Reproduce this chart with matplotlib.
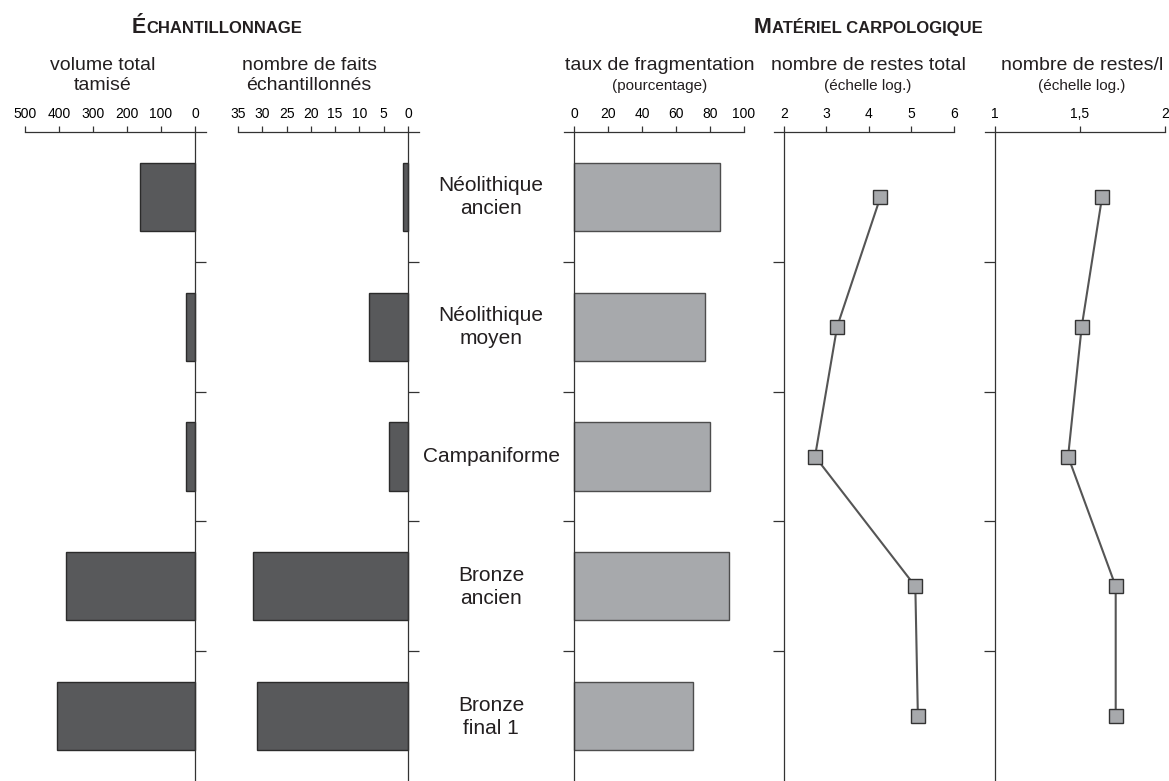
import numpy as np
import matplotlib.pyplot as plt

plt.rcParams["font.family"] = ["Liberation Sans", "DejaVu Sans"]

# données
periodes = ["Néolithique\nancien", "Néolithique\nmoyen", "Campaniforme",
            "Bronze\nancien", "Bronze\nfinal 1"]
volume_tamise = [162, 27, 26, 379, 405]
nb_faits = [1, 8, 4, 32, 31]
taux_fragmentation = [86, 77, 80, 91, 70]
restes_total = [4.27, 3.25, 2.73, 5.09, 5.15]
restes_par_litre = [1.63, 1.51, 1.43, 1.71, 1.71]

vol_ticks = [500, 400, 300, 200, 100, 0]
faits_ticks = [35, 30, 25, 20, 15, 10, 5, 0]
taux_ticks = [0, 20, 40, 60, 80, 100]
total_ticks = [2, 3, 4, 5, 6]
litre_ticks = [1, 1.5, 2]
litre_labels = ["1", "1,5", "2"]

W, H = 1169, 781
fig = plt.figure(figsize=(W / 100, H / 100), dpi=100)

TOP = 132          # ligne d'axe en pixels
TICK_PX = 11       # longueur des traits de séparation
y = np.arange(len(periodes))

DARK = "#58595b"
LIGHT = "#a7a9ac"
LINE = "#333333"


def make_axes(x0_px, x1_px):
    return fig.add_axes([x0_px / W, 0, (x1_px - x0_px) / W, 1 - TOP / H])


def style_axes(ax, spine_side, ticks, labels=None):
    ax.set_ylim(len(periodes) - 0.5, -0.5)
    for s in ax.spines.values():
        s.set_visible(False)
    ax.spines["top"].set_visible(True)
    ax.spines[spine_side].set_visible(True)
    ax.spines[spine_side].set_position(("data", 0 if spine_side == "right" else ticks[0]))
    for s in ("top", spine_side):
        ax.spines[s].set_color(LINE)
        ax.spines[s].set_linewidth(0.9)
    ax.xaxis.tick_top()
    ax.set_xticks(ticks)
    if labels is not None:
        ax.set_xticklabels(labels)
    ax.tick_params(axis="x", direction="out", length=4.3, width=0.9, color=LINE,
                   labelsize=10, pad=3.5)
    if spine_side == "right":
        ax.yaxis.tick_right()
    else:
        ax.yaxis.tick_left()
    ax.set_yticks([0.5, 1.5, 2.5, 3.5])
    ax.set_yticklabels([])
    ax.tick_params(axis="y", direction="out", length=TICK_PX / 1.39, width=0.9, color=LINE)


# --- Échantillonnage ---
ax1 = make_axes(25, 195 + TICK_PX)
ax1.set_xlim(500, -TICK_PX * 500 / 170)
ax1.barh(y, volume_tamise, height=0.525, color=DARK, edgecolor="#2b2b2b", linewidth=1)
style_axes(ax1, "right", vol_ticks)

ax2 = make_axes(238, 408 + TICK_PX)
ax2.set_xlim(35, -TICK_PX * 35 / 170)
ax2.barh(y, nb_faits, height=0.525, color=DARK, edgecolor="#2b2b2b", linewidth=1)
style_axes(ax2, "right", faits_ticks)

# --- Matériel carpologique ---
ax4 = make_axes(574 - TICK_PX + 1, 744)
ax4.set_xlim(-(TICK_PX - 1) * 100 / 170, 100)
ax4.barh(y, taux_fragmentation, height=0.525, color=LIGHT, edgecolor="#4d4d4d", linewidth=1)
style_axes(ax4, "left", taux_ticks)

ax5 = make_axes(784 - TICK_PX + 1, 954)
ax5.set_xlim(2 - (TICK_PX - 1) * 4 / 170, 6)
ax5.plot(restes_total, y, color="#555555", linewidth=1.5, marker="s", markersize=10,
         markerfacecolor=LIGHT, markeredgecolor="#333333", markeredgewidth=1)
style_axes(ax5, "left", total_ticks)

ax6 = make_axes(995 - TICK_PX + 1, 1165)
ax6.set_xlim(1 - (TICK_PX - 1) * 1 / 170, 2)
ax6.plot(restes_par_litre, y, color="#555555", linewidth=1.5, marker="s", markersize=10,
         markerfacecolor=LIGHT, markeredgecolor="#333333", markeredgewidth=1)
style_axes(ax6, "left", litre_ticks, litre_labels)

# noms des périodes au centre
for i, p in enumerate(periodes):
    yc = 1 - (TOP + 130 * (i + 0.5)) / H
    fig.text(491 / W, yc, p, ha="center", va="center", fontsize=15, linespacing=1.25,
             color="#231f20")

# titres de colonnes
def sous_titre(xc, l1, l2, small=False):
    fig.text(xc / W, 1 - 66 / H, l1, ha="center", va="center", fontsize=14, color="#231f20")
    fig.text(xc / W, 1 - 86 / H, l2, ha="center", va="center",
             fontsize=11 if small else 14, color="#231f20")

sous_titre(103, "volume total", "tamisé")
sous_titre(309, "nombre de faits", "échantillonnés")
sous_titre(660, "taux de fragmentation", "(pourcentage)", small=True)
sous_titre(868, "nombre de restes total", "(échelle log.)", small=True)
sous_titre(1082, "nombre de restes/l", "(échelle log.)", small=True)

# titres en petites capitales
renderer = fig.canvas.get_renderer()


def petites_caps(xc, first, rest):
    yb = 1 - 33 / H
    t1 = fig.text(0, yb, first, fontsize=15.5, fontweight="bold", va="baseline", color="#231f20")
    t2 = fig.text(0, yb, rest, fontsize=12, fontweight="bold", va="baseline", color="#231f20")
    w1 = t1.get_window_extent(renderer).width / W
    w2 = t2.get_window_extent(renderer).width / W
    x0 = xc / W - (w1 + w2) / 2
    t1.set_x(x0)
    t2.set_x(x0 + w1)


petites_caps(217, "É", "CHANTILLONNAGE")
petites_caps(868, "M", "ATÉRIEL CARPOLOGIQUE")

fig.savefig("out.png", dpi=100)
